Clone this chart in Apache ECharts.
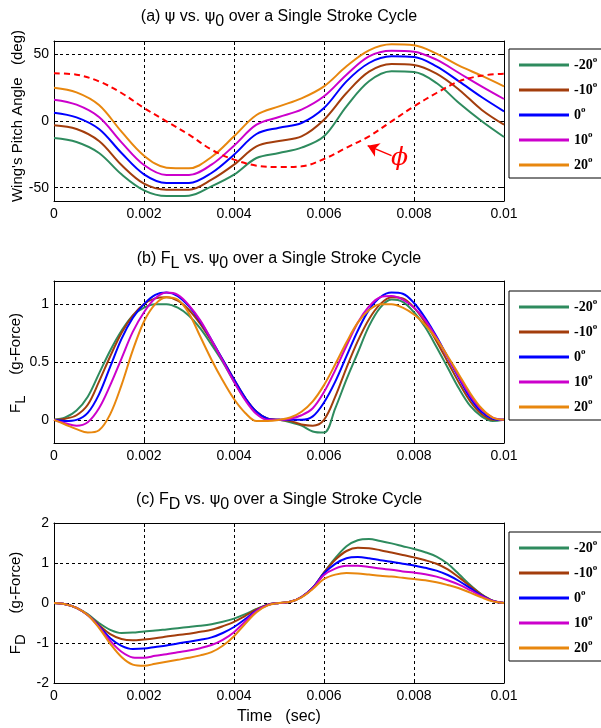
<!DOCTYPE html>
<html><head><meta charset="utf-8">
<script src="https://cdn.jsdelivr.net/npm/echarts@6/dist/echarts.min.js"></script>
<style>html,body{margin:0;padding:0;background:#fff}#c{width:601px;height:728px}</style>
</head><body><div id="c"></div>
<script>
// ---------- data ----------
const seriesNames = ['-20', '-10', '0', '10', '20'];
const seriesColors = ['#2E8B5E', '#A33D0C', '#0000FF', '#CC00CC', '#E8870E'];
const yTicksA = [-50, 0, 50];
const yTicksB = [0, 0.5, 1];

const timeA = [0, 0.0005, 0.001, 0.0015, 0.002, 0.0025, 0.003, 0.0035, 0.004, 0.0045, 0.005,
  0.0055, 0.006, 0.0065, 0.007, 0.0075, 0.008, 0.0085, 0.009, 0.0095, 0.01];
const timeB = [0, 0.00025, 0.0005, 0.00075, 0.001, 0.00125, 0.0015, 0.00175, 0.002, 0.00225, 0.0025,
  0.00275, 0.003, 0.00325, 0.0035, 0.00375, 0.004, 0.00425, 0.0045, 0.00475, 0.005,
  0.00525, 0.0055, 0.00575, 0.006, 0.00625, 0.0065, 0.00675, 0.007, 0.00725, 0.0075,
  0.00775, 0.008, 0.00825, 0.0085, 0.00875, 0.009, 0.00925, 0.0095, 0.00975, 0.01];

// (a) pitch angle psi (deg)
const psiM20 = [-12.75, -15.75, -24, -40, -52, -56.25, -56, -49, -40.25, -27.75, -24, -20, -11.5, 11, 29.75, 37.25, 36.75, 28.5, 13.5, 0, -12];
const psiM10 = [-3.25, -6, -15, -33, -47, -51.5, -51.5, -44, -32.75, -19, -15, -11.5, 1, 21, 37, 42.75, 42, 35.5, 23.5, 8.5, -2.75];
const psi0   = [6.25, 2.75, -6, -24, -40, -46.5, -46.5, -39, -25.25, -9.75, -5, -1.5, 9.75, 29.75, 43.5, 48.5, 48, 41, 29.75, 18, 7.25];
const psi10  = [16, 12.25, 3, -16, -33, -40.5, -40.5, -32.75, -18.5, -2.75, 3, 8.5, 18.5, 34.75, 48.5, 52.75, 52, 46, 36, 26, 16.5];
const psi20  = [25, 21.5, 12, -8, -26, -35, -35.5, -27, -11.5, 4.5, 11, 17, 26, 41, 53, 57.5, 56.75, 50.5, 41.5, 34, 26];
const phi    = [35.75, 34.75, 29.75, 21, 9.75, -0.25, -10.25, -21.5, -29, -33.5, -34.5, -34, -28.5, -20, -11.5, -0.25, 11, 21, 29.75, 34, 35.5];

// (b) lift F_L (g-Force)
const flM20 = [0, 0.02, 0.08, 0.2, 0.4, 0.6, 0.77, 0.9, 0.97, 1.0, 1.0, 0.97, 0.9, 0.79, 0.65, 0.5, 0.33, 0.18, 0.07, 0.01, 0,
  -0.02, -0.05, -0.1, -0.11, 0.1, 0.35, 0.58, 0.81, 0.97, 1.04, 1.02, 0.93, 0.8, 0.63, 0.45, 0.27, 0.12, 0.03, -0.01, 0];
const flM10 = [0, 0.01, 0.04, 0.13, 0.33, 0.55, 0.75, 0.9, 1.0, 1.05, 1.06, 1.03, 0.95, 0.83, 0.68, 0.52, 0.35, 0.19, 0.07, 0.01, 0,
  -0.01, -0.04, -0.05, 0.0, 0.2, 0.45, 0.68, 0.87, 1.0, 1.06, 1.05, 0.97, 0.84, 0.68, 0.5, 0.32, 0.16, 0.05, 0.0, 0];
const fl0   = [0, -0.01, 0.0, 0.06, 0.22, 0.46, 0.7, 0.88, 1.0, 1.08, 1.1, 1.07, 0.98, 0.85, 0.69, 0.52, 0.35, 0.19, 0.07, 0.01, 0,
  0.0, 0.0, 0.03, 0.15, 0.33, 0.55, 0.77, 0.95, 1.06, 1.1, 1.09, 1.01, 0.88, 0.72, 0.54, 0.36, 0.19, 0.07, 0.01, 0];
const fl10  = [0, -0.03, -0.05, -0.02, 0.1, 0.3, 0.53, 0.76, 0.93, 1.05, 1.1, 1.08, 0.99, 0.86, 0.69, 0.51, 0.33, 0.17, 0.05, 0.0, 0,
  0.01, 0.04, 0.1, 0.24, 0.43, 0.64, 0.84, 0.98, 1.06, 1.07, 1.04, 0.97, 0.86, 0.71, 0.54, 0.37, 0.21, 0.09, 0.02, 0];
const fl20  = [0, -0.04, -0.08, -0.11, -0.09, 0.05, 0.3, 0.6, 0.85, 1.0, 1.06, 1.04, 0.92, 0.72, 0.52, 0.34, 0.18, 0.06, -0.01, -0.01, 0,
  0.02, 0.07, 0.16, 0.3, 0.48, 0.67, 0.84, 0.95, 1.0, 1.0, 0.97, 0.91, 0.82, 0.7, 0.55, 0.39, 0.23, 0.1, 0.02, 0];

// (c) drag F_D (g-Force)
const fdM20 = [0, -0.03, -0.12, -0.28, -0.5, -0.67, -0.75, -0.74, -0.71, -0.69, -0.66, -0.63, -0.6, -0.57, -0.53, -0.47, -0.39, -0.28, -0.15, -0.04, 0,
  0.03, 0.15, 0.38, 0.76, 1.12, 1.42, 1.57, 1.6, 1.55, 1.49, 1.42, 1.35, 1.27, 1.16, 0.98, 0.72, 0.45, 0.22, 0.06, 0];
const fdM10 = [0, -0.03, -0.12, -0.3, -0.55, -0.78, -0.9, -0.93, -0.91, -0.88, -0.84, -0.8, -0.77, -0.72, -0.67, -0.58, -0.47, -0.32, -0.16, -0.04, 0,
  0.03, 0.15, 0.38, 0.76, 1.08, 1.3, 1.38, 1.37, 1.32, 1.26, 1.2, 1.14, 1.07, 0.98, 0.84, 0.64, 0.42, 0.21, 0.06, 0];
const fd0   = [0, -0.03, -0.12, -0.3, -0.58, -0.88, -1.07, -1.15, -1.14, -1.1, -1.06, -1.01, -0.97, -0.92, -0.86, -0.75, -0.6, -0.4, -0.19, -0.05, 0,
  0.03, 0.15, 0.38, 0.74, 0.98, 1.12, 1.15, 1.12, 1.07, 1.03, 0.98, 0.94, 0.88, 0.81, 0.7, 0.55, 0.37, 0.19, 0.05, 0];
const fd10  = [0, -0.03, -0.12, -0.3, -0.6, -0.95, -1.22, -1.36, -1.37, -1.32, -1.28, -1.23, -1.19, -1.13, -1.05, -0.92, -0.73, -0.46, -0.2, -0.05, 0,
  0.03, 0.15, 0.37, 0.7, 0.86, 0.93, 0.93, 0.9, 0.86, 0.83, 0.79, 0.76, 0.72, 0.66, 0.57, 0.46, 0.32, 0.17, 0.05, 0];
const fd20  = [0, -0.03, -0.12, -0.3, -0.62, -1.02, -1.35, -1.54, -1.57, -1.52, -1.47, -1.42, -1.37, -1.31, -1.23, -1.07, -0.83, -0.52, -0.23, -0.06, 0,
  0.03, 0.14, 0.35, 0.6, 0.71, 0.75, 0.74, 0.71, 0.68, 0.66, 0.63, 0.6, 0.57, 0.52, 0.45, 0.37, 0.26, 0.14, 0.04, 0];

// annotation (phi arrow) in data units
const phiArrowFrom = [0.0075, -26];
const phiArrowTo = [0.00697, -18.5];
const phiLabelAt = [0.00768, -28];

// ---------- chart ----------
const FONT = 'Liberation Sans';
const chart = echarts.init(document.getElementById('c'), null, {renderer: 'canvas'});
const zip = (t, v) => t.map((x, i) => [x, v[i]]);

const grids = [
  {left: 54, top: 41, width: 450, height: 160},
  {left: 54, top: 281, width: 450, height: 162},
  {left: 54, top: 523, width: 450, height: 160}
];
const yRanges = [
  {min: -60, max: 60, ticks: yTicksA},
  {min: -0.2, max: 1.2, ticks: yTicksB},
  {min: -2, max: 2, interval: 1}
];
const axLine = {show: true, onZero: false, lineStyle: {color: '#000', width: 1}};
const tick = {show: true, inside: true, length: 4, lineStyle: {color: '#000', width: 1}};
const split = {show: true, lineStyle: {color: '#000', width: 1, type: [3, 3]}};
const fmtX = v => (v === 0 ? '0' : String(parseFloat(v.toFixed(4))));

const xAxis = [], yAxis = [];
grids.forEach((g, i) => {
  xAxis.push({
    gridIndex: i, type: 'value', min: 0, max: 0.01, interval: 0.002, position: 'bottom',
    axisLine: axLine, axisTick: tick, splitLine: split,
    axisLabel: {color: '#000', fontFamily: FONT, fontSize: 14, margin: 6, formatter: fmtX},
    name: i === 2 ? 'Time   (sec)' : '', nameLocation: 'middle', nameGap: 26,
    nameTextStyle: {color: '#000', fontFamily: FONT, fontSize: 16}
  });
});
grids.forEach((g, i) => {
  xAxis.push({
    gridIndex: i, type: 'value', min: 0, max: 0.01, interval: 0.002, position: 'top',
    axisLine: axLine, axisTick: tick, splitLine: {show: false}, axisLabel: {show: false}
  });
});
yRanges.forEach((r, i) => {
  const base = {gridIndex: i, type: 'value', min: r.min, max: r.max};
  if (r.interval) base.interval = r.interval;
  yAxis.push(Object.assign({}, base, {
    position: 'left', axisLine: axLine,
    axisTick: r.ticks ? Object.assign({}, tick, {customValues: r.ticks}) : tick,
    splitLine: split,
    axisLabel: Object.assign({color: '#000', fontFamily: FONT, fontSize: 14, margin: 5},
      r.ticks ? {customValues: r.ticks} : {})
  }));
});
yRanges.forEach((r, i) => {
  const base = {gridIndex: i, type: 'value', min: r.min, max: r.max};
  if (r.interval) base.interval = r.interval;
  yAxis.push(Object.assign({}, base, {
    position: 'right', axisLine: axLine,
    axisTick: r.ticks ? Object.assign({}, tick, {customValues: r.ticks}) : tick,
    splitLine: {show: false}, axisLabel: {show: false}
  }));
});

const panelData = [
  {t: timeA, vals: [psiM20, psiM10, psi0, psi10, psi20]},
  {t: timeB, vals: [flM20, flM10, fl0, fl10, fl20]},
  {t: timeB, vals: [fdM20, fdM10, fd0, fd10, fd20]}
];
const series = [];
panelData.forEach((p, gi) => {
  p.vals.forEach((v, k) => {
    series.push({
      name: seriesNames[k], type: 'line', xAxisIndex: gi, yAxisIndex: gi,
      data: zip(p.t, v), showSymbol: false, symbol: 'none', smooth: 0.35,
      color: seriesColors[k], lineStyle: {color: seriesColors[k], width: 2}, z: 3
    });
  });
});
series.push({
  name: 'phi', type: 'line', xAxisIndex: 0, yAxisIndex: 0, data: zip(timeA, phi),
  showSymbol: false, symbol: 'none', smooth: 0.35, color: '#FF0000',
  lineStyle: {color: '#FF0000', width: 2, type: [6, 4]}, z: 4,
  markLine: {
    silent: true, symbol: ['none', 'arrow'], symbolSize: 11,
    lineStyle: {color: '#FF0000', width: 1.5, type: 'solid'}, label: {show: false},
    data: [[{coord: phiArrowFrom}, {coord: phiArrowTo}]]
  },
  markPoint: {
    silent: true, symbol: 'circle', symbolSize: 1, itemStyle: {color: 'rgba(0,0,0,0)'},
    label: {show: true, position: 'inside', formatter: 'ϕ', color: '#FF0000',
      fontSize: 25, fontStyle: 'italic', fontFamily: 'DejaVu Serif'},
    data: [{coord: phiLabelAt}]
  }
});

const legendTops = [49, 291, 532];
const legend = legendTops.map(top => ({
  data: seriesNames, orient: 'vertical', left: 509, top: top, icon: 'rect',
  itemWidth: 50, itemHeight: 3, itemGap: 8, itemTextGap: 6,
  padding: [6, 30, 6, 10], borderColor: '#000', borderWidth: 1, backgroundColor: '#fff',
  selectedMode: false,
  formatter: n => '{n|' + n + '}{s|o}',
  textStyle: {
    rich: {
      n: {fontFamily: 'Liberation Serif', fontWeight: 'bold', fontSize: 14, lineHeight: 20, color: '#000'},
      s: {fontFamily: 'Liberation Serif', fontWeight: 'bold', fontSize: 9, lineHeight: 10, verticalAlign: 'top', color: '#000'}
    }
  }
}));

const mkRich = (fs, lh) => ({
  g: {fontFamily: 'DejaVu Sans', fontSize: fs, lineHeight: lh, color: '#000'},
  sub: {fontFamily: FONT, fontSize: fs, lineHeight: fs, verticalAlign: 'bottom', color: '#000'},
  t: {fontFamily: FONT, fontSize: fs, lineHeight: lh, color: '#000'}
});
const titleTexts = [
  '{t|(a) }{g|ψ}{t| vs. }{g|ψ}{sub|0}{t| over a Single Stroke Cycle}',
  '{t|(b) F}{sub|L}{t| vs. }{g|ψ}{sub|0}{t| over a Single Stroke Cycle}',
  '{t|(c) F}{sub|D}{t| vs. }{g|ψ}{sub|0}{t| over a Single Stroke Cycle}'
];
const titleYs = [17, 259, 500];
const yNameTexts = [
  "{t|Wing's Pitch Angle   (deg)}",
  '{t|F}{sub|L}{t|     (g-Force)}',
  '{t|F}{sub|D}{t|     (g-Force)}'
];
const yNamePos = [[18, 116], [16, 363], [16, 603]];

const graphic = [];
titleTexts.forEach((txt, i) => graphic.push({
  type: 'text', x: 279, y: titleYs[i], z: 10,
  style: {text: txt, rich: mkRich(16, 26), align: 'center', verticalAlign: 'middle'}
}));
yNameTexts.forEach((txt, i) => graphic.push({
  type: 'text', x: yNamePos[i][0], y: yNamePos[i][1], rotation: Math.PI / 2, z: 10,
  style: {text: txt, rich: mkRich(15, 24), align: 'center', verticalAlign: 'middle'}
}));

chart.setOption({
  backgroundColor: '#fff', animation: false,
  grid: grids, xAxis: xAxis, yAxis: yAxis, series: series, legend: legend, graphic: graphic
});
</script></body></html>
